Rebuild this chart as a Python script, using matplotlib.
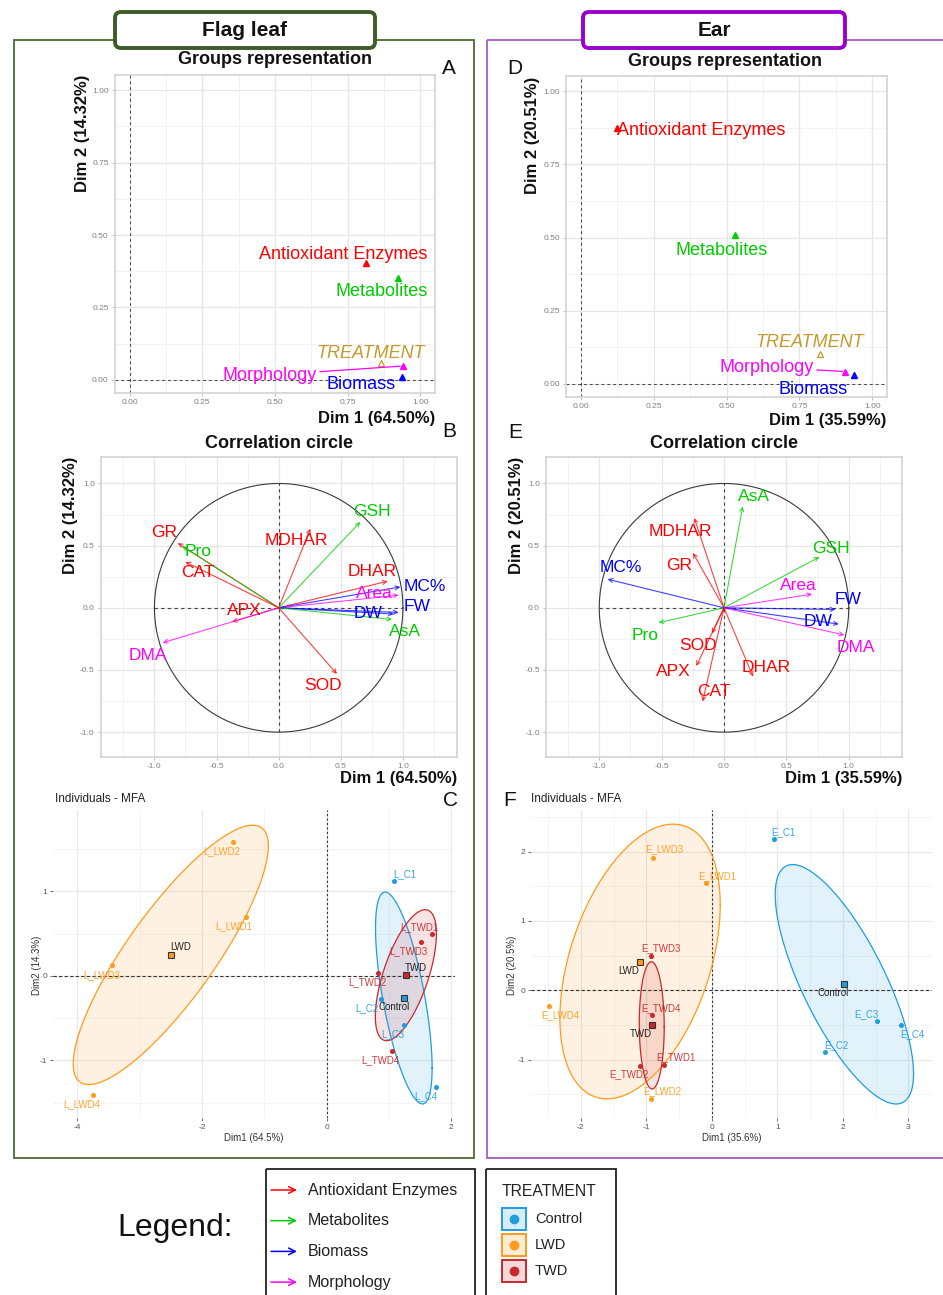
import numpy as np
import matplotlib
matplotlib.use("Agg")
import matplotlib.pyplot as plt
from matplotlib.patches import FancyBboxPatch, Rectangle

plt.rcParams['font.family'] = ['Liberation Sans', 'DejaVu Sans']
plt.rcParams['axes.unicode_minus'] = False

# ---------------------------------------------------------------- data
group_names = ['Antioxidant Enzymes', 'Metabolites', 'Biomass', 'Morphology']
group_colors = ['#ff0000', '#00cc00', '#0000ff', '#ff00ff']

# groups representation (Dim1, Dim2)
leaf_group_dim1 = [0.812, 0.923, 0.938, 0.940]
leaf_group_dim2 = [0.402, 0.353, 0.011, 0.048]
leaf_treatment = [0.864, 0.057]
ear_group_dim1 = [0.125, 0.529, 0.937, 0.907]
ear_group_dim2 = [0.876, 0.507, 0.031, 0.042]
ear_treatment = [0.822, 0.103]

# correlation circle variables
variables = ['GR', 'Pro', 'CAT', 'MDHAR', 'GSH', 'DHAR', 'MC%', 'Area',
             'FW', 'DW', 'AsA', 'APX', 'DMA', 'SOD']
variable_group = ['Antioxidant Enzymes', 'Metabolites', 'Antioxidant Enzymes',
                  'Antioxidant Enzymes', 'Metabolites', 'Antioxidant Enzymes',
                  'Biomass', 'Morphology', 'Biomass', 'Biomass', 'Metabolites',
                  'Antioxidant Enzymes', 'Morphology', 'Antioxidant Enzymes']
leaf_var_dim1 = [-0.812, -0.777, -0.751, 0.255, 0.657, 0.877, 0.979, 0.965,
                 0.965, 0.925, 0.912, -0.375, -0.933, 0.469]
leaf_var_dim2 = [0.521, 0.495, 0.369, 0.636, 0.690, 0.214, 0.168, 0.102,
                 -0.037, -0.050, -0.094, -0.112, -0.281, -0.532]
ear_var_dim1 = [-0.249, -0.524, -0.171, -0.238, 0.765, 0.233, -0.933, 0.706,
                0.893, 0.920, 0.150, -0.222, 0.965, -0.096]
ear_var_dim2 = [0.441, -0.120, -0.754, 0.722, 0.409, -0.553, 0.230, 0.110,
                -0.013, -0.131, 0.815, -0.468, -0.219, -0.206]

# individuals
treatment_levels = ['Control', 'LWD', 'TWD']
treatment_colors = ['#1f9de0', '#ff9a1a', '#c9282d']
ind_treatment = ['Control'] * 4 + ['LWD'] * 4 + ['TWD'] * 4
leaf_ind_names = ['L_C1', 'L_C2', 'L_C3', 'L_C4', 'L_LWD1', 'L_LWD2', 'L_LWD3',
                  'L_LWD4', 'L_TWD1', 'L_TWD2', 'L_TWD3', 'L_TWD4']
leaf_ind_dim1 = [1.083, 0.880, 1.243, 1.749, -1.291, -1.509, -3.451, -3.749,
                 1.696, 0.827, 1.509, 1.056]
leaf_ind_dim2 = [1.125, -0.275, -0.580, -1.318, 0.694, 1.576, 0.125, -1.404,
                 0.490, 0.035, 0.400, -0.894]
ear_ind_names = ['E_C1', 'E_C2', 'E_C3', 'E_C4', 'E_LWD1', 'E_LWD2', 'E_LWD3',
                 'E_LWD4', 'E_TWD1', 'E_TWD2', 'E_TWD3', 'E_TWD4']
ear_ind_dim1 = [0.952, 1.730, 2.519, 2.891, -0.087, -0.926, -0.891, -2.478,
                -0.723, -1.104, -0.926, -0.916]
ear_ind_dim2 = [2.182, -0.887, -0.446, -0.499, 1.544, -1.564, 1.914, -0.230,
                -1.070, -1.084, 0.499, -0.360]

# ------------------------------------------------------- label placement
leaf_group_lab = {'Antioxidant Enzymes': (-0.077, 0.032), 'Metabolites': (-0.055, -0.048),
                  'Biomass': (-0.141, -0.028), 'Morphology': (-0.457, -0.031)}
leaf_treat_lab = (-0.034, 0.035)
ear_group_lab = {'Antioxidant Enzymes': (0.287, -0.009), 'Metabolites': (-0.046, -0.050),
                 'Biomass': (-0.141, -0.051), 'Morphology': (-0.268, 0.015)}
ear_treat_lab = (-0.038, 0.038)

leaf_var_lab = {'GR': (-0.113, 0.081), 'Pro': (0.128, -0.04), 'CAT': (0.10, -0.088),
                'MDHAR': (-0.116, -0.093), 'GSH': (0.094, 0.088), 'DHAR': (-0.126, 0.08),
                'MC%': (0.195, 0.006), 'Area': (-0.196, 0.013), 'FW': (0.148, 0.045),
                'DW': (-0.207, 0.005), 'AsA': (0.107, -0.099), 'APX': (0.099, 0.088),
                'DMA': (-0.118, -0.099), 'SOD': (-0.115, -0.094)}
ear_var_lab = {'GR': (-0.107, -0.104), 'Pro': (-0.112, -0.099), 'CAT': (0.093, 0.08),
               'MDHAR': (-0.112, -0.107), 'GSH': (0.096, 0.072), 'DHAR': (0.104, 0.074),
               'MC%': (0.109, 0.091), 'Area': (-0.112, 0.072), 'FW': (0.102, 0.08),
               'DW': (-0.166, 0.024), 'AsA': (0.093, 0.081), 'APX': (-0.187, -0.045),
               'DMA': (0.094, -0.099), 'SOD': (-0.113, -0.099)}

# text offsets of individual labels, in pixels (right, up)
leaf_ind_off = [(11, 7), (-15, -9), (-11, -9), (-10, -9), (-12, -9), (-11, -9),
                (-10, -10), (-11, -9), (-13, 7), (-11, -9), (-12, -9), (-12, -9)]
leaf_mean_off = {'Control': (-10, -9), 'LWD': (10, 8), 'TWD': (10, 7)}
ear_ind_off = [(9, 7), (11, 7), (-11, 7), (11, -9), (11, 7), (11, 8), (11, 8),
               (11, -9), (11, 7), (-11, -9), (10, 8), (9, 7)]
ear_mean_off = {'Control': (-11, -9), 'LWD': (-11, -9), 'TWD': (-11, -9)}

# ---------------------------------------------------------------- figure
W, H = 943, 1295
fig = plt.figure(figsize=(W / 100, H / 100), dpi=100)
PX = 0.72  # points per pixel at 100 dpi


def px_axes(x0, y0, x1, y1):
    return fig.add_axes([x0 / W, 1 - y1 / H, (x1 - x0) / W, (y1 - y0) / H])


def ftext(x, y, s, **kw):
    return fig.text(x / W, 1 - y / H, s, **kw)


def light_theme(ax, xmaj, ymaj, xmin, ymin, fmt):
    ax.set_xticks(xmaj)
    ax.set_yticks(ymaj)
    ax.set_xticks(xmin, minor=True)
    ax.set_yticks(ymin, minor=True)
    ax.set_xticklabels([fmt.format(v) for v in xmaj])
    ax.set_yticklabels([fmt.format(v) for v in ymaj])
    ax.grid(True, which='major', color='#e6e6e6', lw=0.9)
    ax.grid(True, which='minor', color='#f0f0f0', lw=0.6)
    ax.set_axisbelow(True)
    for sp in ax.spines.values():
        sp.set_color('#d0d0d0')
        sp.set_linewidth(1.1)
    ax.tick_params(which='major', length=2.5, width=0.6, color='#b3b3b3',
                   labelsize=6, labelcolor='#808080', pad=2)
    ax.tick_params(which='minor', length=0)


def groups_panel(ax, d1, d2, treat, lab, treat_lab):
    ax.set_xlim(-0.05, 1.05)
    ax.set_ylim(-0.045, 1.052)
    light_theme(ax, [0, 0.25, 0.5, 0.75, 1.0], [0, 0.25, 0.5, 0.75, 1.0],
                [0.125, 0.375, 0.625, 0.875], [0.125, 0.375, 0.625, 0.875], '{:.2f}')
    ax.axhline(0, color='#444444', lw=0.7, ls=(0, (3, 3)), zorder=1)
    ax.axvline(0, color='#444444', lw=0.7, ls=(0, (3, 3)), zorder=1)
    for g, c, x, y in zip(group_names, group_colors, d1, d2):
        ax.plot(x, y, marker='^', ms=4.5, color=c, zorder=3)
        dx, dy = lab[g]
        if g == 'Morphology':
            ax.annotate(g, xy=(x, y), xytext=(x + dx, y + dy), color=c, fontsize=13,
                        ha='center', va='center', zorder=4,
                        arrowprops=dict(arrowstyle='-', color=c, lw=0.9,
                                        shrinkA=0, shrinkB=2))
        else:
            ax.text(x + dx, y + dy, g, color=c, fontsize=13, ha='center',
                    va='center', zorder=4)
    ax.plot(treat[0], treat[1], marker='^', ms=5, mfc='none', mec='#c49a2c',
            mew=0.9, zorder=3)
    ax.text(treat[0] + treat_lab[0], treat[1] + treat_lab[1], 'TREATMENT',
            color='#c49a2c', fontsize=13, style='italic', ha='center', va='center',
            zorder=4)


def circle_panel(ax, d1, d2, lab, xlim):
    ax.set_xlim(*xlim)
    ax.set_ylim(-1.2, 1.213)
    light_theme(ax, [-1.0, -0.5, 0, 0.5, 1.0], [-1.0, -0.5, 0, 0.5, 1.0],
                [-1.25, -0.75, -0.25, 0.25, 0.75, 1.25], [-0.75, -0.25, 0.25, 0.75],
                '{:.1f}')
    t = np.linspace(0, 2 * np.pi, 300)
    ax.plot(np.cos(t), np.sin(t), color='#3a3a3a', lw=0.8, zorder=2)
    ax.plot([-1, 1], [0, 0], color='#444444', lw=0.8, ls=(0, (3, 3)), zorder=1)
    ax.plot([0, 0], [-1, 1], color='#444444', lw=0.8, ls=(0, (3, 3)), zorder=1)
    cmap = dict(zip(group_names, group_colors))
    for v, g, x, y in zip(variables, variable_group, d1, d2):
        c = cmap[g]
        ax.annotate('', xy=(x, y), xytext=(0, 0), zorder=3,
                    arrowprops=dict(arrowstyle='->', color=c, lw=0.8, alpha=0.75,
                                    shrinkA=0, shrinkB=0, mutation_scale=7))
        dx, dy = lab[v]
        ax.text(x + dx, y + dy, v, color=c, fontsize=12.5, ha='center',
                va='center', zorder=4)


def conf_ellipse(ax, px, py, color):
    pts = np.column_stack([px, py])
    m = pts.mean(axis=0)
    S = np.cov(pts.T)
    L = np.linalg.cholesky(S)
    r = np.sqrt(-2 * np.log(0.05)) / np.sqrt(len(pts))
    t = np.linspace(0, 2 * np.pi, 300)
    e = m[:, None] + r * L @ np.vstack([np.cos(t), np.sin(t)])
    ax.fill(e[0], e[1], color=color, alpha=0.13, lw=0, zorder=1)
    ax.plot(e[0], e[1], color=color, lw=0.9, zorder=2)
    return m


def ind_panel(ax, names, d1, d2, offs, mean_offs, xlim, ylim, xt, yt, xm, ym):
    ax.set_xlim(*xlim)
    ax.set_ylim(*ylim)
    ax.set_xticks(xt)
    ax.set_yticks(yt)
    ax.set_xticks(xm, minor=True)
    ax.set_yticks(ym, minor=True)
    ax.grid(True, which='major', color='#e8e8e8', lw=0.9)
    ax.grid(True, which='minor', color='#f2f2f2', lw=0.6)
    ax.set_axisbelow(True)
    for sp in ax.spines.values():
        sp.set_visible(False)
    ax.tick_params(which='major', length=2, width=0.6, color='#555555',
                   labelsize=6, labelcolor='#555555', pad=2)
    ax.tick_params(which='minor', length=0)
    ax.axhline(0, color='#333333', lw=0.8, ls=(0, (3, 2)), zorder=1.5)
    ax.axvline(0, color='#333333', lw=0.8, ls=(0, (2, 2)), zorder=1.5)
    d1 = np.array(d1)
    d2 = np.array(d2)
    tr = np.array(ind_treatment)
    means = {}
    for lev, c in zip(treatment_levels, treatment_colors):
        sel = tr == lev
        means[lev] = conf_ellipse(ax, d1[sel], d2[sel], c)
    for n, t, x, y, o in zip(names, ind_treatment, d1, d2, offs):
        c = treatment_colors[treatment_levels.index(t)]
        ax.plot(x, y, 'o', ms=2.6, color=c, zorder=3)
        ax.annotate(n, xy=(x, y), xytext=(o[0] * PX, o[1] * PX),
                    textcoords='offset points', color=c, fontsize=7,
                    ha='center', va='center', zorder=4, alpha=0.9)
    for lev, c in zip(treatment_levels, treatment_colors):
        mx, my = means[lev]
        ax.plot(mx, my, 's', ms=5, mfc=c, mec='#333333', mew=0.8, zorder=5)
        o = mean_offs[lev]
        ax.annotate(lev, xy=(mx, my), xytext=(o[0] * PX, o[1] * PX),
                    textcoords='offset points', color='#222222', fontsize=7,
                    ha='center', va='center', zorder=6)


# --- A / D : groups representation
axA = px_axes(115, 75, 435, 393)
groups_panel(axA, leaf_group_dim1, leaf_group_dim2, leaf_treatment,
             leaf_group_lab, leaf_treat_lab)
axD = px_axes(566, 76, 887, 397)
groups_panel(axD, ear_group_dim1, ear_group_dim2, ear_treatment,
             ear_group_lab, ear_treat_lab)

# --- B / E : correlation circles
axB = px_axes(101, 457, 457, 757)
circle_panel(axB, leaf_var_dim1, leaf_var_dim2, leaf_var_lab, (-1.43, 1.435))
axE = px_axes(546, 457, 902, 757)
circle_panel(axE, ear_var_dim1, ear_var_dim2, ear_var_lab, (-1.427, 1.427))

# --- C / F : individuals
axC = px_axes(53, 810, 455, 1118)
ind_panel(axC, leaf_ind_names, leaf_ind_dim1, leaf_ind_dim2, leaf_ind_off,
          leaf_mean_off, (-4.39, 2.06), (-1.68, 1.96), [-4, -2, 0, 2], [-1, 0, 1],
          [-3, -1, 1], [-1.5, -0.5, 0.5, 1.5])
axF = px_axes(531, 810, 932, 1118)
ind_panel(axF, ear_ind_names, ear_ind_dim1, ear_ind_dim2, ear_ind_off,
          ear_mean_off, (-2.76, 3.36), (-1.84, 2.6), [-2, -1, 0, 1, 2, 3],
          [-1, 0, 1, 2], [-2.5, -1.5, -0.5, 0.5, 1.5, 2.5], [-1.5, -0.5, 0.5, 1.5, 2.5])

# --- panel titles and axis titles
bold = dict(fontweight='bold', color='#111111')
ftext(275, 60, 'Groups representation', fontsize=13, ha='center', va='center', **bold)
ftext(725, 62, 'Groups representation', fontsize=13, ha='center', va='center', **bold)
ftext(279, 443, 'Correlation circle', fontsize=13, ha='center', va='center', **bold)
ftext(724, 443, 'Correlation circle', fontsize=13, ha='center', va='center', **bold)

ftext(82, 75, 'Dim 2 (14.32%)', fontsize=12, rotation=90, ha='center', va='top', **bold)
ftext(533, 77, 'Dim 2 (20.51%)', fontsize=12, rotation=90, ha='center', va='top', **bold)
ftext(71, 457, 'Dim 2 (14.32%)', fontsize=12, rotation=90, ha='center', va='top', **bold)
ftext(517, 457, 'Dim 2 (20.51%)', fontsize=12, rotation=90, ha='center', va='top', **bold)
ftext(435, 418, 'Dim 1 (64.50%)', fontsize=12, ha='right', va='center', **bold)
ftext(886, 420, 'Dim 1 (35.59%)', fontsize=12, ha='right', va='center', **bold)
ftext(457, 779, 'Dim 1 (64.50%)', fontsize=12, ha='right', va='center', **bold)
ftext(902, 779, 'Dim 1 (35.59%)', fontsize=12, ha='right', va='center', **bold)

ftext(55, 799, 'Individuals - MFA', fontsize=8.5, ha='left', va='center', color='#222222')
ftext(531, 799, 'Individuals - MFA', fontsize=8.5, ha='left', va='center', color='#222222')
ftext(254, 1138, 'Dim1 (64.5%)', fontsize=7, ha='center', va='center', color='#333333')
ftext(732, 1138, 'Dim1 (35.6%)', fontsize=7, ha='center', va='center', color='#333333')
ftext(37, 965, 'Dim2 (14.3%)', fontsize=7, rotation=90, ha='center', va='center', color='#333333')
ftext(512, 965, 'Dim2 (20.5%)', fontsize=7, rotation=90, ha='center', va='center', color='#333333')

for s, x, y in [('A', 449, 68), ('B', 449, 432), ('C', 451, 800),
                ('D', 515, 68), ('E', 515, 433), ('F', 510, 800)]:
    ftext(x, y, s, fontsize=15, ha='center', va='center', color='#111111')

# --- frames, headers and legend drawn in pixel space
ov = fig.add_axes([0, 0, 1, 1])
ov.set_xlim(0, W)
ov.set_ylim(H, 0)
ov.axis('off')

ov.add_patch(Rectangle((14, 40), 460, 1118, fill=False, ec='#4b6b35', lw=1.3))
ov.add_patch(Rectangle((487, 40), 470, 1118, fill=False, ec='#a45cc8', lw=1.3))

for x0, w, label, ec in [(115, 260, 'Flag leaf', '#3e5b28'), (583, 262, 'Ear', '#9900cc')]:
    ov.add_patch(FancyBboxPatch((x0, 12), w, 36,
                                boxstyle='round,pad=0,rounding_size=6',
                                fc='white', ec=ec, lw=2.8, zorder=5))
    ov.text(x0 + w / 2, 31, label, fontsize=15, fontweight='bold', ha='center',
            va='center', color='#111111', zorder=6)

ov.text(175, 1228, 'Legend:', fontsize=23, ha='center', va='center', color='#111111')
ov.add_patch(Rectangle((266, 1169), 209, 140, fill=False, ec='#222222', lw=1.3))
ov.add_patch(Rectangle((486, 1169), 130, 140, fill=False, ec='#222222', lw=1.3))
for i, (g, c) in enumerate(zip(group_names, group_colors)):
    y = 1190 + i * 30.7
    ov.annotate('', xy=(297, y), xytext=(271, y),
                arrowprops=dict(arrowstyle='->', color=c, lw=1.1,
                                shrinkA=0, shrinkB=0, mutation_scale=12))
    ov.text(308, y, g, fontsize=11.5, ha='left', va='center', color='#222222')

ov.text(502, 1192, 'TREATMENT', fontsize=11.3, ha='left', va='center', color='#222222')
for i, (lev, c) in enumerate(zip(treatment_levels, treatment_colors)):
    y = 1219 + i * 26
    ov.add_patch(Rectangle((502, y - 11), 24, 22, fc=c, alpha=0.18, lw=0))
    ov.add_patch(Rectangle((502, y - 11), 24, 22, fill=False, ec=c, lw=1.4))
    ov.plot(514, y, 'o', ms=6, color=c)
    ov.text(535, y, lev, fontsize=10.5, ha='left', va='center', color='#222222')

fig.savefig('out.png', dpi=100)
